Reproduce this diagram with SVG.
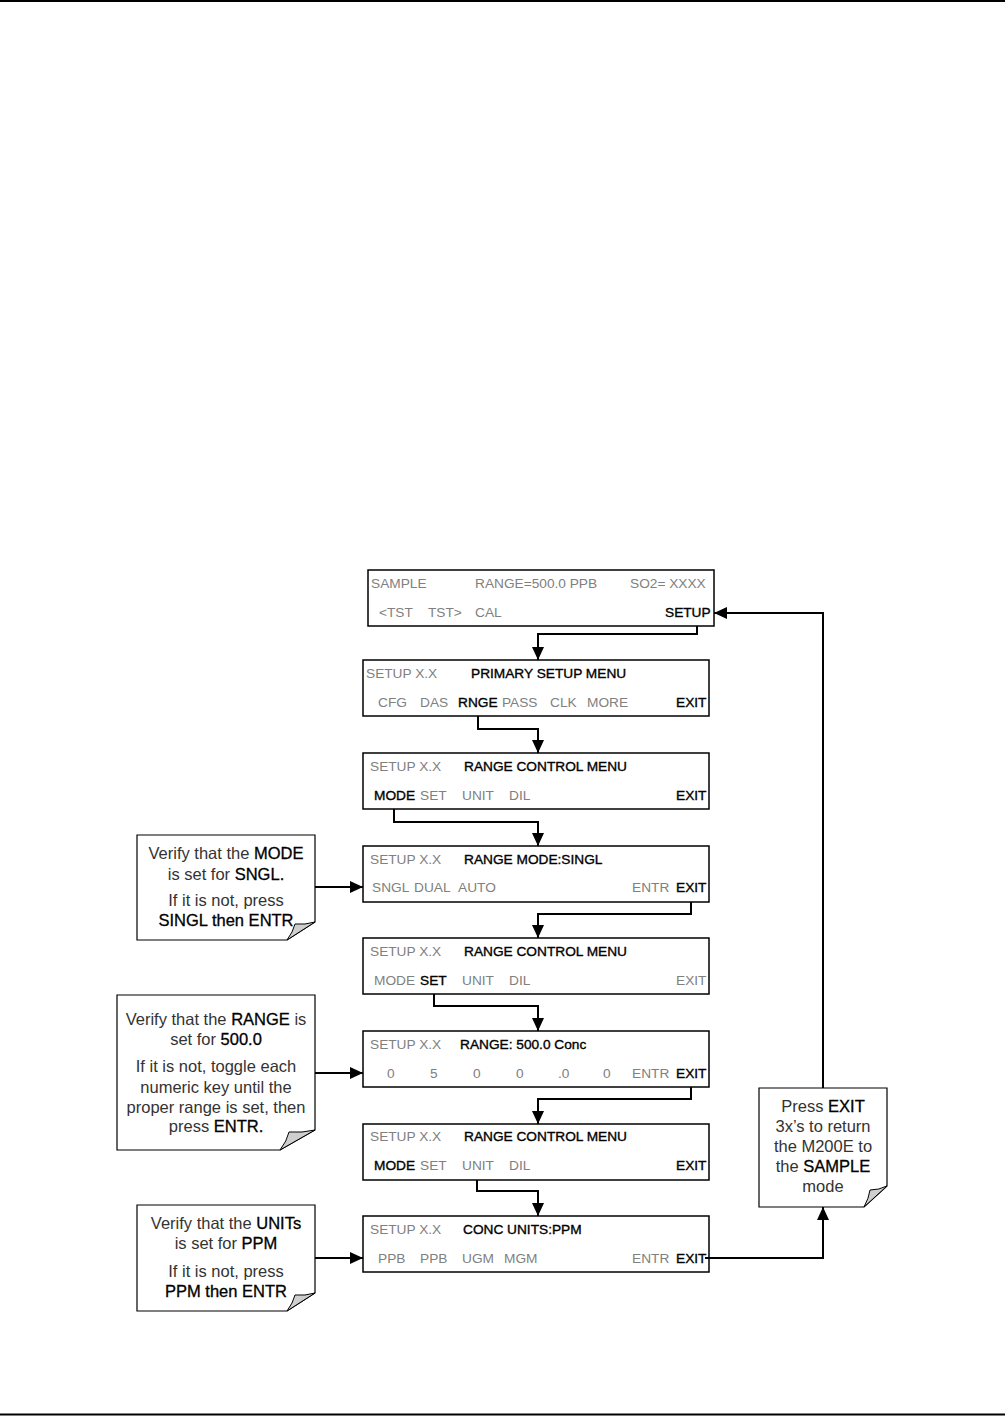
<svg xmlns="http://www.w3.org/2000/svg" width="1005" height="1416" viewBox="0 0 1005 1416">
<defs>
<style>
.bx{fill:#fff;stroke:#000;stroke-width:1.5}
.t{font-family:"Liberation Sans",Arial,sans-serif;font-size:13.7px}
.g{fill:#808080}
.k{fill:#000;stroke:#000;stroke-width:0.35}
.n{font-family:"Liberation Sans",Arial,sans-serif;font-size:16.5px;fill:#333;text-anchor:middle}
.n tspan.b{fill:#000;stroke:#000;stroke-width:0.3}
.note{fill:#fff;stroke:#000;stroke-width:1.2}
.fold{fill:#cfcfcf;stroke:#000;stroke-width:1}
.c{fill:none;stroke:#000;stroke-width:2}
.pg{stroke:#000;stroke-width:2}
</style>
<marker id="ah" markerUnits="userSpaceOnUse" markerWidth="14" markerHeight="12" refX="13" refY="6" orient="auto">
<path d="M0,0 L13,6 L0,12 z" fill="#000"/>
</marker>
</defs>
<rect width="1005" height="1416" fill="#fff"/>
<line class="pg" x1="0" y1="1" x2="1005" y2="1"/>
<line class="pg" x1="0" y1="1414.5" x2="1005" y2="1414.5"/>

<g id="box1">
<rect class="bx" x="368" y="570" width="346" height="56"/>
<text class="t g" x="371" y="588">SAMPLE</text>
<text class="t g" x="475" y="588">RANGE=500.0 PPB</text>
<text class="t g" x="630" y="588">SO2= XXXX</text>
<text class="t g" x="379" y="617">&lt;TST</text>
<text class="t g" x="428" y="617">TST&gt;</text>
<text class="t g" x="475" y="617">CAL</text>
<text class="t k" x="665" y="617">SETUP</text>
</g>

<g id="box2">
<rect class="bx" x="363" y="660" width="346" height="56"/>
<text class="t g" x="366" y="678">SETUP X.X</text>
<text class="t k" x="471" y="678">PRIMARY SETUP MENU</text>
<text class="t g" x="378" y="707">CFG</text>
<text class="t g" x="420" y="707">DAS</text>
<text class="t k" x="458" y="707">RNGE</text>
<text class="t g" x="502" y="707">PASS</text>
<text class="t g" x="550" y="707">CLK</text>
<text class="t g" x="587" y="707">MORE</text>
<text class="t k" x="676" y="707">EXIT</text>
</g>

<g id="box3">
<rect class="bx" x="363" y="753" width="346" height="56"/>
<text class="t g" x="370" y="771">SETUP X.X</text>
<text class="t k" x="464" y="771">RANGE CONTROL MENU</text>
<text class="t k" x="374" y="800">MODE</text>
<text class="t g" x="420" y="800">SET</text>
<text class="t g" x="462" y="800">UNIT</text>
<text class="t g" x="509" y="800">DIL</text>
<text class="t k" x="676" y="800">EXIT</text>
</g>

<g id="box4">
<rect class="bx" x="363" y="846" width="346" height="56"/>
<text class="t g" x="370" y="864">SETUP X.X</text>
<text class="t k" x="464" y="864">RANGE MODE:SINGL</text>
<text class="t g" x="372" y="892">SNGL</text>
<text class="t g" x="414" y="892">DUAL</text>
<text class="t g" x="458" y="892">AUTO</text>
<text class="t g" x="632" y="892">ENTR</text>
<text class="t k" x="676" y="892">EXIT</text>
</g>

<g id="box5">
<rect class="bx" x="363" y="938" width="346" height="56"/>
<text class="t g" x="370" y="956">SETUP X.X</text>
<text class="t k" x="464" y="956">RANGE CONTROL MENU</text>
<text class="t g" x="374" y="985">MODE</text>
<text class="t k" x="420" y="985">SET</text>
<text class="t g" x="462" y="985">UNIT</text>
<text class="t g" x="509" y="985">DIL</text>
<text class="t g" x="676" y="985">EXIT</text>
</g>

<g id="box6">
<rect class="bx" x="363" y="1031" width="346" height="56"/>
<text class="t g" x="370" y="1049">SETUP X.X</text>
<text class="t k" x="460" y="1049">RANGE: 500.0 Conc</text>
<text class="t g" x="387" y="1078">0</text>
<text class="t g" x="430" y="1078">5</text>
<text class="t g" x="473" y="1078">0</text>
<text class="t g" x="516" y="1078">0</text>
<text class="t g" x="558" y="1078">.0</text>
<text class="t g" x="603" y="1078">0</text>
<text class="t g" x="632" y="1078">ENTR</text>
<text class="t k" x="676" y="1078">EXIT</text>
</g>

<g id="box7">
<rect class="bx" x="363" y="1124" width="346" height="56"/>
<text class="t g" x="370" y="1141">SETUP X.X</text>
<text class="t k" x="464" y="1141">RANGE CONTROL MENU</text>
<text class="t k" x="374" y="1170">MODE</text>
<text class="t g" x="420" y="1170">SET</text>
<text class="t g" x="462" y="1170">UNIT</text>
<text class="t g" x="509" y="1170">DIL</text>
<text class="t k" x="676" y="1170">EXIT</text>
</g>

<g id="box8">
<rect class="bx" x="363" y="1216" width="346" height="56"/>
<text class="t g" x="370" y="1234">SETUP X.X</text>
<text class="t k" x="463" y="1234">CONC UNITS:PPM</text>
<text class="t g" x="378" y="1263">PPB</text>
<text class="t g" x="420" y="1263">PPB</text>
<text class="t g" x="462" y="1263">UGM</text>
<text class="t g" x="504" y="1263">MGM</text>
<text class="t g" x="632" y="1263">ENTR</text>
<text class="t k" x="676" y="1263">EXIT</text>
</g>

<g id="note1">
<path class="note" d="M137,835 H315 V922 L287,940 H137 Z"/>
<path class="fold" d="M287,940 Q293,932 295,924 Q305,925 315,922 Z"/>
<text class="n" x="226" y="859">Verify that the <tspan class="b">MODE</tspan></text>
<text class="n" x="226" y="880">is set for <tspan class="b">SNGL.</tspan></text>
<text class="n" x="226" y="906">If it is not, press</text>
<text class="n" x="226" y="926"><tspan class="b">SINGL then ENTR</tspan></text>
</g>

<g id="note2">
<path class="note" d="M117,995 H315 V1130 L280,1150 H117 Z"/>
<path class="fold" d="M280,1150 Q287,1141 289,1132 Q302,1133 315,1130 Z"/>
<text class="n" x="216" y="1025">Verify that the <tspan class="b">RANGE</tspan> is</text>
<text class="n" x="216" y="1045">set for <tspan class="b">500.0</tspan></text>
<text class="n" x="216" y="1072">If it is not, toggle each</text>
<text class="n" x="216" y="1093">numeric key until the</text>
<text class="n" x="216" y="1113">proper range is set, then</text>
<text class="n" x="216" y="1132">press <tspan class="b">ENTR.</tspan></text>
</g>

<g id="note3">
<path class="note" d="M137,1205 H315 V1293 L287,1311 H137 Z"/>
<path class="fold" d="M287,1311 Q293,1303 295,1295 Q305,1296 315,1293 Z"/>
<text class="n" x="226" y="1229">Verify that the <tspan class="b">UNITs</tspan></text>
<text class="n" x="226" y="1249">is set for <tspan class="b">PPM</tspan></text>
<text class="n" x="226" y="1277">If it is not, press</text>
<text class="n" x="226" y="1297"><tspan class="b">PPM then ENTR</tspan></text>
</g>

<g id="note4">
<path class="note" d="M759,1088 H887 V1186 L864,1207 H759 Z"/>
<path class="fold" d="M864,1207 Q869,1198 870,1190 Q879,1190 887,1186 Z"/>
<text class="n" x="823" y="1112">Press <tspan class="b">EXIT</tspan></text>
<text class="n" x="823" y="1132">3x’s to return</text>
<text class="n" x="823" y="1152">the M200E to</text>
<text class="n" x="823" y="1172">the <tspan class="b">SAMPLE</tspan></text>
<text class="n" x="823" y="1192">mode</text>
</g>

<g id="connectors">
<path class="c" d="M697,626 V634 H538 V660" marker-end="url(#ah)"/>
<path class="c" d="M478,716 V729 H538 V753" marker-end="url(#ah)"/>
<path class="c" d="M394,809 V822 H538 V846" marker-end="url(#ah)"/>
<path class="c" d="M691,902 V914 H538 V938" marker-end="url(#ah)"/>
<path class="c" d="M434,994 V1006 H538 V1031" marker-end="url(#ah)"/>
<path class="c" d="M691,1087 V1099 H538 V1124" marker-end="url(#ah)"/>
<path class="c" d="M477,1180 V1191 H538 V1216" marker-end="url(#ah)"/>
<path class="c" d="M705,1258 H823 V1207" marker-end="url(#ah)"/>
<path class="c" d="M823,1088 V613 H714" marker-end="url(#ah)"/>
<path class="c" d="M315,887 H363" marker-end="url(#ah)"/>
<path class="c" d="M315,1073 H363" marker-end="url(#ah)"/>
<path class="c" d="M315,1258 H363" marker-end="url(#ah)"/>
</g>
</svg>
